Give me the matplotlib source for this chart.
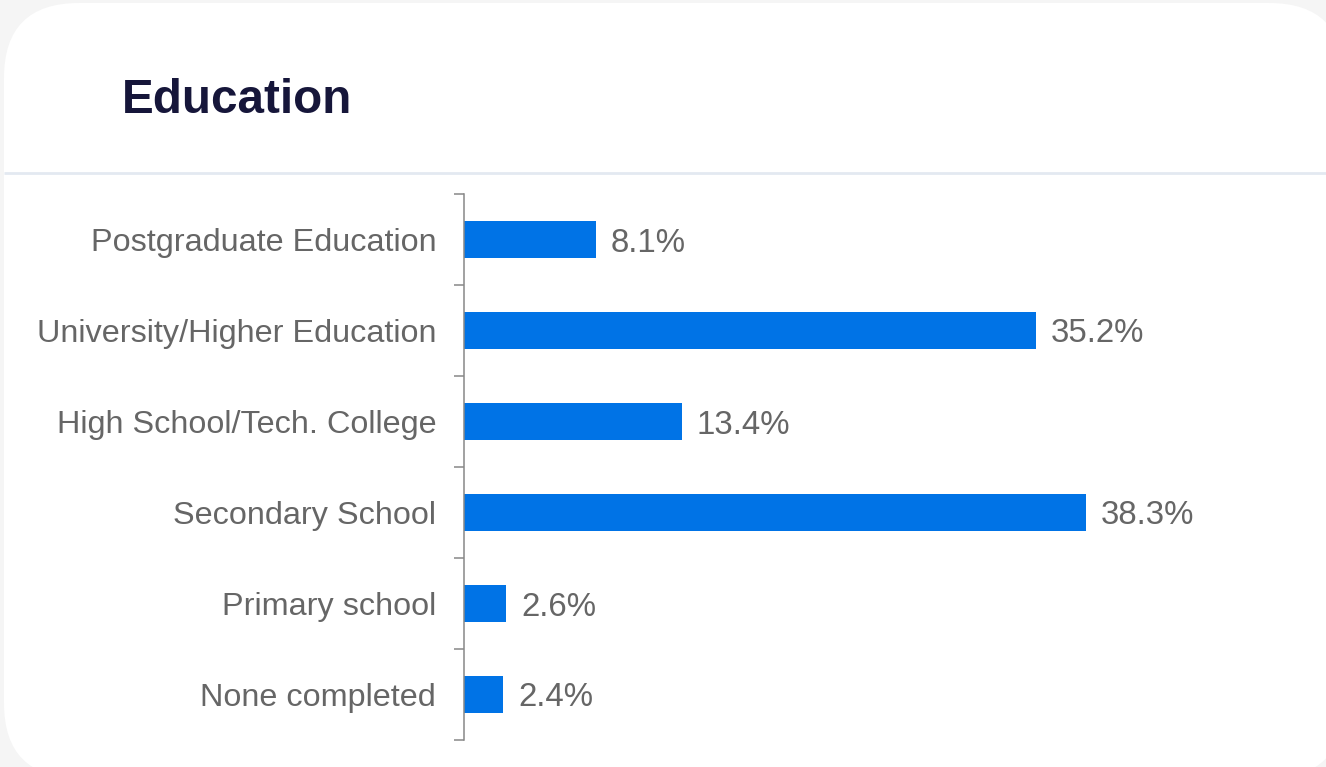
import matplotlib
matplotlib.use("Agg")
import matplotlib.pyplot as plt
from matplotlib.patches import FancyBboxPatch
import numpy as np

categories = ["Postgraduate Education", "University/Higher Education",
              "High School/Tech. College", "Secondary School",
              "Primary school", "None completed"]
values = [8.1, 35.2, 13.4, 38.3, 2.6, 2.4]
title = "Education"

W, H = 1326, 767
fig = plt.figure(figsize=(W / 100, H / 100), dpi=100)
fig.patch.set_facecolor("#f5f5f5")

# background card in pixel coordinates
bg = fig.add_axes([0, 0, 1, 1], zorder=0)
bg.set_xlim(0, W)
bg.set_ylim(H, 0)
bg.axis("off")
card = FancyBboxPatch((4, 3), 1340, 775, boxstyle="round,pad=0,rounding_size=75",
                      facecolor="white", edgecolor="none")
bg.add_patch(card)
bg.plot([4, W], [173, 173], color="#e3e9f1", lw=2, solid_capstyle="butt")
bg.text(122, 113, title, fontsize=34.3, fontweight="bold", color="#16163a",
        family="Liberation Sans", va="baseline", ha="left")

# chart axes
left, right, top, bottom = 464, 1300, 194, 740
ax = fig.add_axes([left / W, (H - bottom) / H, (right - left) / W, (bottom - top) / H], zorder=1)
ax.patch.set_alpha(0)
n = len(categories)
y = np.arange(n)
ax.barh(y, values, height=0.4, color="#0073e6")
ax.set_ylim(n - 0.5, -0.5)
ax.set_xlim(0, (right - left) / 16.24)
ax.set_yticks(y)
ax.set_yticklabels(categories, fontsize=23.3, color="#666666", family="Liberation Sans")
ax.set_yticks(np.arange(-0.5, n, 1), minor=True)
for lbl in ax.get_yticklabels():
    lbl.set_verticalalignment("center_baseline")
ax.tick_params(axis="y", which="major", length=0, pad=20)
ax.tick_params(axis="y", which="minor", length=7, color="#888888", width=1.1)
ax.set_xticks([])
for s in ["top", "right", "bottom"]:
    ax.spines[s].set_visible(False)
ax.spines["left"].set_color("#888888")
ax.spines["left"].set_linewidth(1.1)
for yi, v in zip(y, values):
    ax.annotate(f"{v}%", (v, yi), xytext=(15, 0), textcoords="offset pixels",
                va="center_baseline", ha="left", fontsize=23.8, color="#666666",
                family="Liberation Sans")

fig.savefig("out.png", dpi=100, facecolor=fig.get_facecolor())
